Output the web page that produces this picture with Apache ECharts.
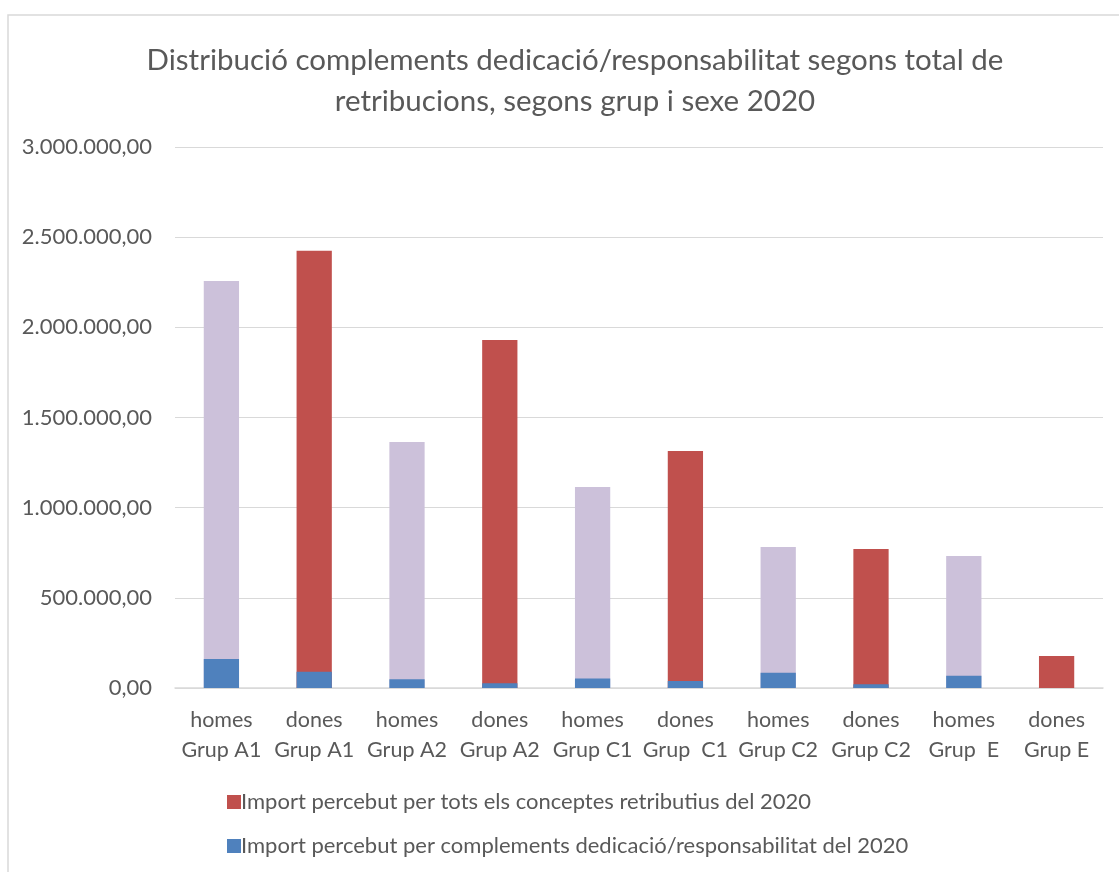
<!DOCTYPE html>
<html>
<head>
<meta charset="utf-8">
<script src="https://cdn.jsdelivr.net/npm/echarts@6/dist/echarts.min.js"></script>
<style>
  html, body { margin: 0; padding: 0; background: #fff; }
  #chart { width: 1119px; height: 872px; }
</style>
</head>
<body>
<div id="chart"></div>
<script>
// categories (sex + group)
const categories = [
  'homes\nGrup A1', 'dones\nGrup A1', 'homes\nGrup A2', 'dones\nGrup A2',
  'homes\nGrup C1', 'dones\nGrup  C1', 'homes\nGrup C2', 'dones\nGrup C2',
  'homes\nGrup  E', 'dones\nGrup E'
];
// total received for all concepts, 2020
const totalValues = [2257000, 2424000, 1364000, 1930000, 1115000, 1314000, 782000, 771000, 732000, 177000];
// received for dedication/responsibility complements, 2020
const complementValues = [161000, 90000, 48000, 26000, 52000, 39000, 85000, 21000, 68000, 0];

const FONT = 'Lato';
const RED = '#C0504D';
const LAVENDER = '#CCC1DA';
const BLUE = '#4F81BD';

function fmt(v) {
  const s = Math.round(v).toString().replace(/\B(?=(\d{3})+(?!\d))/g, '.');
  return s + ',00';
}

const chart = echarts.init(document.getElementById('chart'));

chart.setOption({
  animation: false,
  textStyle: { fontFamily: FONT },
  graphic: [{
    type: 'rect',
    shape: { x: 8, y: 15, width: 1200, height: 900 },
    style: { fill: 'none', stroke: '#d9d9d9', lineWidth: 1.5 },
    silent: true
  }],
  title: {
    text: 'Distribució complements dedicació/responsabilitat segons total de\nretribucions, segons grup i sexe 2020',
    left: 570,
    textAlign: 'center',
    top: 35,
    textStyle: { fontFamily: FONT, fontSize: 29.5, fontWeight: 'normal', color: '#595959', lineHeight: 41 }
  },
  legend: {
    orient: 'vertical',
    left: 222,
    top: 786,
    itemGap: 22,
    itemWidth: 14,
    itemHeight: 14,
    icon: 'rect',
    textStyle: { fontFamily: FONT, fontSize: 22, color: '#595959', padding: [0, 0, 0, -5] },
    data: [
      { name: 'Import percebut per tots els conceptes retributius del 2020', itemStyle: { color: RED } },
      { name: 'Import percebut per complements dedicació/responsabilitat del 2020', itemStyle: { color: BLUE } }
    ]
  },
  grid: { left: 175, right: 16, top: 147, bottom: 184, containLabel: false },
  xAxis: {
    type: 'category',
    data: categories,
    axisLine: { lineStyle: { color: '#d9d9d9', width: 1.5 } },
    axisTick: { show: false },
    axisLabel: { fontFamily: FONT, fontSize: 21.5, color: '#595959', lineHeight: 30, margin: 17, interval: 0 }
  },
  yAxis: {
    type: 'value',
    min: 0,
    max: 3000000,
    interval: 500000,
    axisLine: { show: false },
    axisTick: { show: false },
    splitLine: { lineStyle: { color: '#d9d9d9', width: 1 } },
    axisLabel: { fontFamily: FONT, fontSize: 22, color: '#595959', margin: 23, formatter: fmt }
  },
  series: [
    {
      name: 'Import percebut per tots els conceptes retributius del 2020',
      type: 'bar',
      barWidth: '38%',
      barGap: '-100%',
      itemStyle: { color: RED },
      data: totalValues.map((v, i) => ({
        value: v,
        itemStyle: { color: i % 2 === 0 ? LAVENDER : RED }
      }))
    },
    {
      name: 'Import percebut per complements dedicació/responsabilitat del 2020',
      type: 'bar',
      barWidth: '38%',
      barGap: '-100%',
      itemStyle: { color: BLUE },
      data: complementValues
    }
  ]
});
</script>
</body>
</html>
